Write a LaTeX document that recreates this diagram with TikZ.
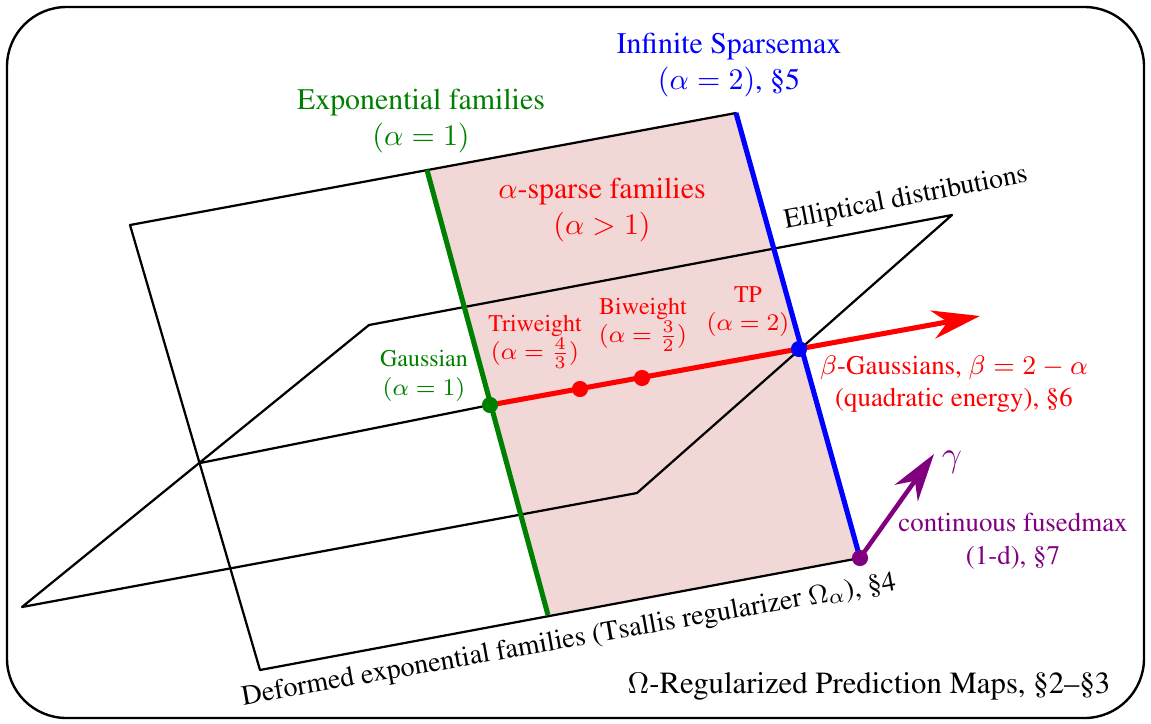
\documentclass[tikz,border=0pt]{standalone}
\usepackage[T1]{fontenc}
\usepackage{times}
\usepackage{amsmath, amssymb}
\usetikzlibrary{arrows.meta, calc}
\definecolor{sparsepink}{RGB}{242,215,215}
\definecolor{expgreen}{RGB}{0,128,0}
\definecolor{fusedpurple}{RGB}{128,0,128}

\begin{document}
\begin{tikzpicture}[x=0.01176cm, y=-0.01176cm, line join=round, >={Stealth[length=16pt, width=9.5pt, inset=5pt]},
    plane/.style={draw=black, line width=0.75pt},
    family/.style={line width=1.7pt},
    dot/.style={circle, fill, inner sep=0pt, minimum size=5.4pt},
    lbl/.style={align=center, inner sep=0pt}]
      \useasboundingbox (0,0) rectangle (1151,723);
      \draw[line width=0.8pt, rounded corners=0.7cm] (7,7) rectangle (1144,718);

      \coordinate (A) at (130,225);
      \coordinate (B) at (736,113);
      \coordinate (C) at (860,558);
      \coordinate (D) at (260,670);
      \coordinate (G1) at (427,170);
      \coordinate (G2) at (548,615);
      \coordinate (E1) at (22,607);
      \coordinate (E2) at (369,325);
      \coordinate (E3) at (952,215);
      \coordinate (E4) at (637,493);
      \coordinate (P0) at (200,463);
      \coordinate (gauss) at (490,405);
      \coordinate (tri) at (580,389);
      \coordinate (bi) at (642,378);
      \coordinate (tp) at (799,349);
      \coordinate (betaend) at (980,316);
      \coordinate (gammaend) at (934,454);

      \fill[sparsepink] (G1) -- (B) -- (C) -- (G2) -- cycle;
      \draw[plane] (A) -- (B) -- (C) -- (D) -- cycle;
      \draw[plane] (E1) -- (E2) -- (E3) -- (E4) -- cycle;
      \draw[plane] (P0) -- (gauss);
      \draw[family, expgreen] (G1) -- (G2);
      \draw[family, blue] (B) -- (C);
      \draw[family, red, ->] (gauss) -- (betaend);
      \draw[line width=1.5pt, fusedpurple, ->] (C) -- (gammaend);

      \node[dot, expgreen] (gaussdot) at (gauss) {};
      \node[dot, red] (tridot) at (tri) {};
      \node[dot, red] (bidot) at (bi) {};
      \node[dot, blue] (tpdot) at (tp) {};
      \node[dot, fusedpurple] (fuseddot) at (C) {};

      \node[lbl, blue] (sparsemax) at (729,65) {Infinite Sparsemax\\$(\alpha=2)$, \S5};
      \node[lbl, expgreen] (expfam) at (421,121) {Exponential families\\$(\alpha=1)$};
      \node[lbl, red] (alphasparse) at (602,210) {$\alpha$-sparse families\\$(\alpha>1)$};
      \node[lbl, rotate=11, font=\fontsize{9.3}{11}\selectfont] (elliptical) at (906,199) {Elliptical distributions};
      \node[lbl, red, font=\footnotesize] (triweight) at (535,342) {Triweight\\$(\alpha=\frac{4}{3})$};
      \node[lbl, red, font=\footnotesize] (biweight) at (643,325) {Biweight\\$(\alpha=\frac{3}{2})$};
      \node[lbl, red, font=\footnotesize] (tplbl) at (748,312) {TP\\$(\alpha=2)$};
      \node[lbl, expgreen, font=\footnotesize] (gausslbl) at (424,376) {Gaussian\\$(\alpha=1)$};
      \node[lbl, red, font=\small] (betagauss) at (954,384) {$\beta$-Gaussians, $\beta=2-\alpha$\\(quadratic energy), \S6};
      \node[lbl, fusedpurple, font=\large] (gammalbl) at (952,462) {$\gamma$};
      \node[lbl, fusedpurple, font=\small] (fusedmax) at (1013,541) {continuous fusedmax\\(1-d), \S7};
      \node[lbl, rotate=10, font=\fontsize{9.4}{11}\selectfont] (deformed) at (569,641) {Deformed exponential families (Tsallis regularizer $\Omega_\alpha$), \S4};
      \node[lbl, font=\fontsize{10.3}{12}\selectfont] (omegamaps) at (869,686) {$\Omega$-Regularized Prediction Maps, \S2--\S3};
    \end{tikzpicture}
\end{document}
